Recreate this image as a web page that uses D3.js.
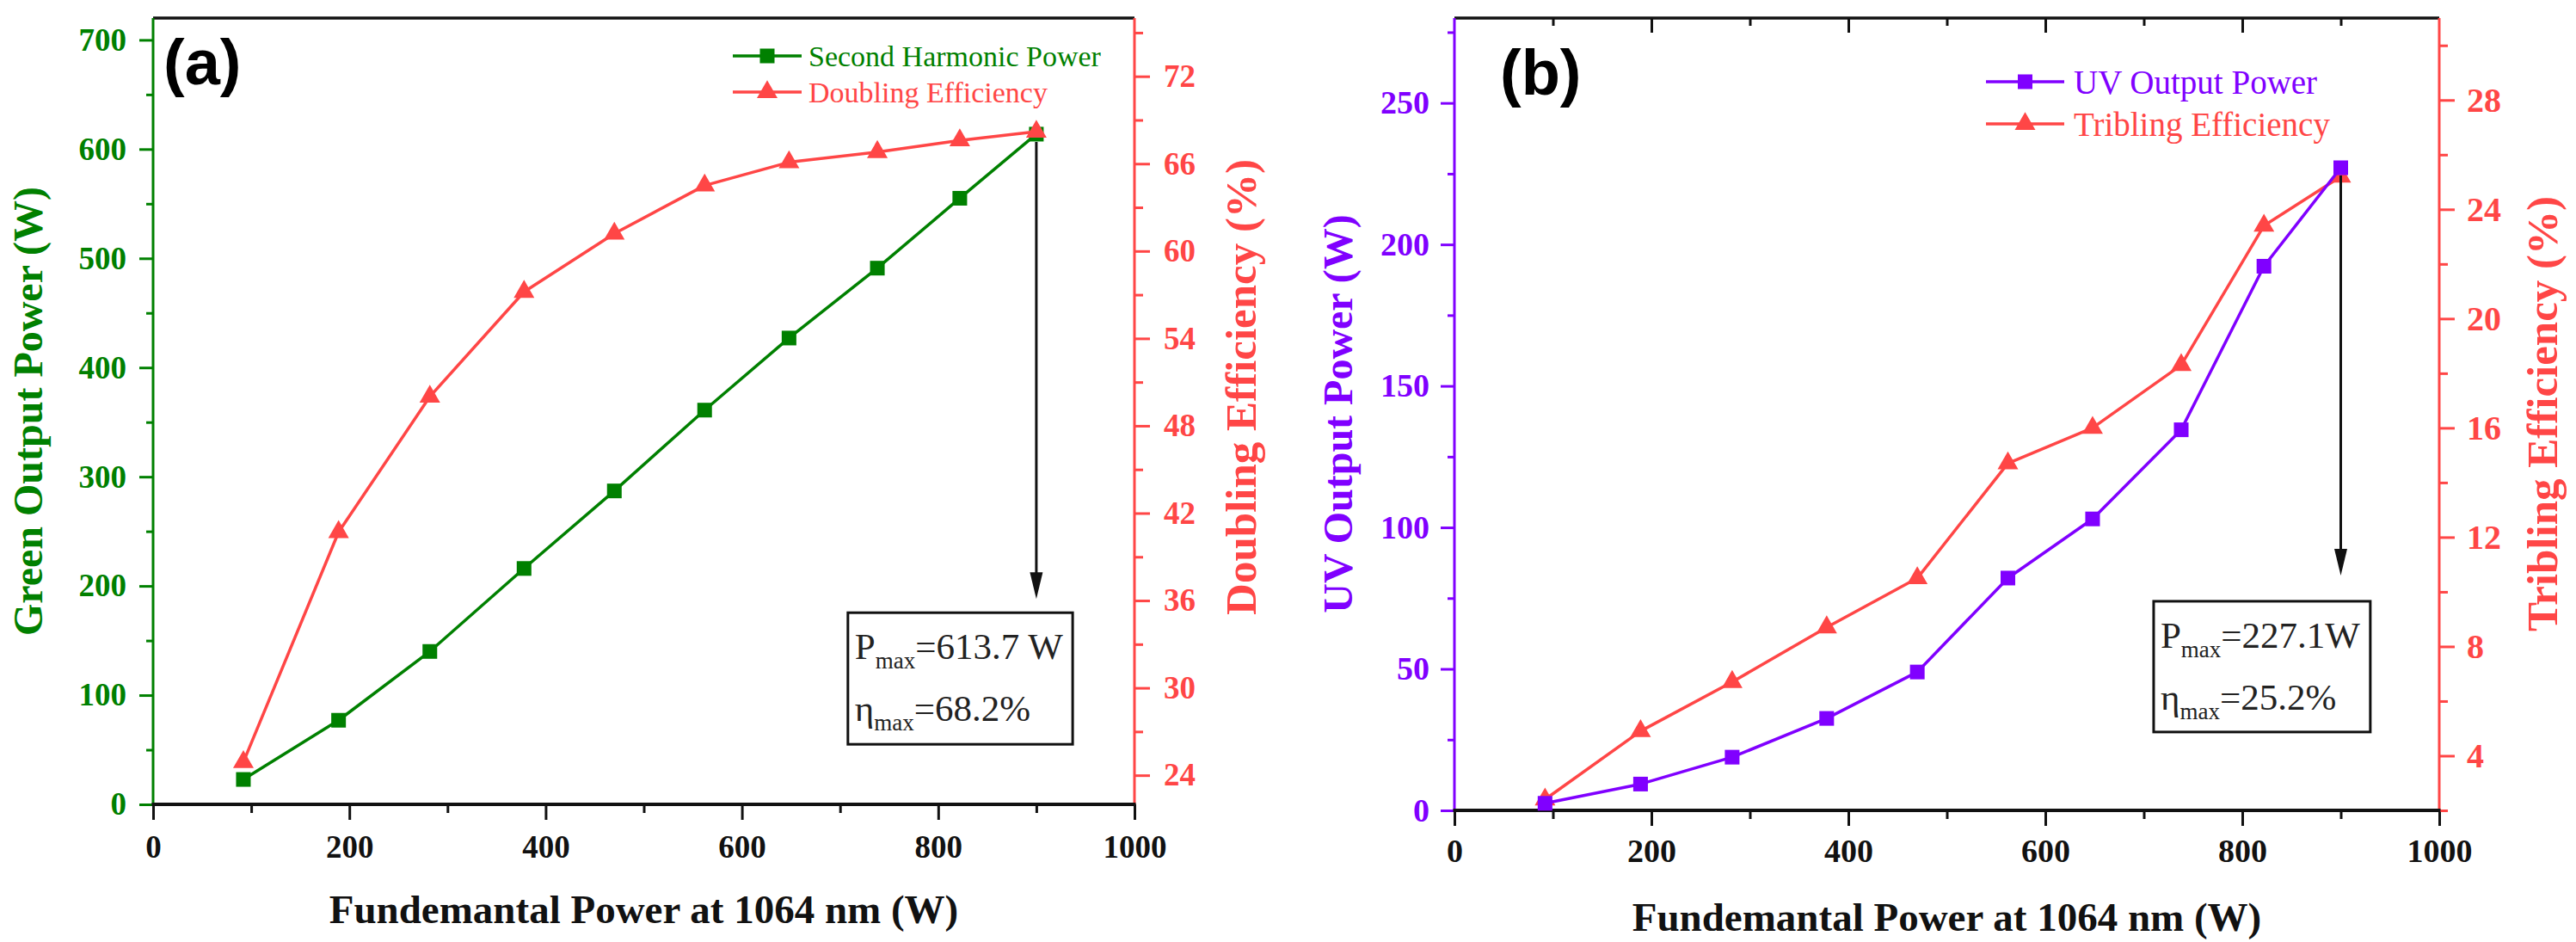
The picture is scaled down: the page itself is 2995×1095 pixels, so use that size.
<!DOCTYPE html>
<html><head><meta charset="utf-8">
<script src="https://cdn.jsdelivr.net/npm/d3@7"></script>
<style>html,body{margin:0;padding:0;background:#fff;} svg{display:block;}</style>
</head><body>
<svg id="chart" width="2995" height="1095"></svg>
<script>
// ---------------- data ----------------
const fundPower   = [92, 189, 282, 378, 470, 562, 648, 738, 822, 900];
const greenPower  = [22.8, 77, 140, 216, 287, 361, 427, 491, 555, 613.7];
const doublingEff = [24.9, 40.7, 50.0, 57.2, 61.2, 64.5, 66.1, 66.8, 67.6, 68.2];
const uvPower     = [2.5, 9.3, 18.8, 32.5, 48.9, 82.1, 103, 134.5, 192.3, 227.1];
const triblingEff = [2.4, 4.9, 6.7, 8.7, 10.5, 14.7, 16.0, 18.3, 23.4, 25.2];

const xTicksMajor  = [0, 200, 400, 600, 800, 1000];
const xTicksMinor  = [100, 300, 500, 700, 900];
const aLeftTicks   = [0, 100, 200, 300, 400, 500, 600, 700];
const aLeftMinor   = [50, 150, 250, 350, 450, 550, 650];
const aRightTicks  = [24, 30, 36, 42, 48, 54, 60, 66, 72];
const aRightMinor  = [27, 33, 39, 45, 51, 57, 63, 69, 75];
const bLeftTicks   = [0, 50, 100, 150, 200, 250];
const bLeftMinor   = [25, 75, 125, 175, 225, 275];
const bRightTicks  = [4, 8, 12, 16, 20, 24, 28];
const bRightMinor  = [2, 6, 10, 14, 18, 22, 26, 30];

const xTitle = "Fundemantal Power at 1064 nm (W)";

// ---------------- styles ----------------
const GREEN = "#008000", RED = "#ff4646", PURPLE = "#8000ff", BLACK = "#111";
const SERIF = "'Liberation Serif','Times New Roman',serif";
const SANS  = "'Liberation Sans',Arial,sans-serif";

const svg = d3.select("#chart");

const panels = [
  { label: "(a)", labelPos: [190, 98],
    left: 178, right: 1319, top: 21, bottom: 935,
    yLDomain: [0, 720], yRDomain: [22, 76],
    leftTicks: aLeftTicks, leftMinor: aLeftMinor, rightTicks: aRightTicks, rightMinor: aRightMinor,
    leftColor: GREEN, rightColor: RED, leftSeries: greenPower, rightSeries: doublingEff,
    leftName: "Second Harmonic Power", rightName: "Doubling Efficiency",
    leftTitle: "Green Output Power (W)", rightTitle: "Doubling Efficiency (%)",
    leftTitlePos: [49, 478, 48], rightTitlePos: [1460, 450, 51],
    tickFont: 37, rightTickFont: 37, leftLabelOff: 31, rightLabelOff: 34, bottomLabelOff: 62,
    xTitleBaseline: 1073, xTitleFont: 47, topTicks: false,
    legend: { x0: 852, x1: 932, xt: 940, rows: [65, 107], font: 34, base: 11.5 },
    arrowTip: 188, box: [708, 937, 175.5, 55],
    pmax: "=613.7 W", etamax: "=68.2%", redOnTop: true },
  { label: "(b)", labelPos: [1744, 110],
    left: 1691, right: 2836, top: 21, bottom: 942,
    yLDomain: [0, 280], yRDomain: [2, 31],
    leftTicks: bLeftTicks, leftMinor: bLeftMinor, rightTicks: bRightTicks, rightMinor: bRightMinor,
    leftColor: PURPLE, rightColor: RED, leftSeries: uvPower, rightSeries: triblingEff,
    leftName: "UV Output Power", rightName: "Tribling Efficiency",
    leftTitle: "UV Output Power (W)", rightTitle: "Tribling Efficiency (%)",
    leftTitlePos: [1572, 481, 48], rightTitlePos: [2973, 481, 51],
    tickFont: 38, rightTickFont: 40, leftLabelOff: 29, rightLabelOff: 32, bottomLabelOff: 60,
    xTitleBaseline: 1082, xTitleFont: 47, topTicks: true,
    legend: { x0: 2309, x1: 2400, xt: 2411, rows: [95, 144], font: 39, base: 14 },
    arrowTip: 83, box: [710, 930, 73.9, 27.7],
    pmax: "=227.1W", etamax: "=25.2%", redOnTop: false }
];

const intFmt = d3.format("d");

function styleAxis(g, color, font, fontSize, weight) {
  g.select(".domain").remove();
  g.selectAll(".tick line").attr("stroke", color).attr("stroke-width", 3);
  g.selectAll(".tick text")
    .attr("fill", color)
    .style("font-family", font)
    .style("font-size", fontSize + "px")
    .style("font-weight", weight);
}

function drawSeries(g, xs, ys, x, y, color, shape) {
  const line = d3.line().x((d, i) => x(xs[i])).y(d => y(d));
  g.append("path").datum(ys).attr("d", line)
    .attr("fill", "none").attr("stroke", color).attr("stroke-width", 3.5)
    .attr("stroke-linejoin", "round");
  const sym = shape === "square" ? d3.symbol().type(d3.symbolSquare).size(290)
                                 : d3.symbol().type(d3.symbolTriangle).size(250);
  g.selectAll(null).data(ys).enter().append("path")
    .attr("transform", (d, i) => `translate(${x(xs[i])},${y(d)})`)
    .attr("d", sym).attr("fill", color);
}

panels.forEach(p => {
  const g = svg.append("g");
  const x  = d3.scaleLinear().domain([0, 1000]).range([p.left, p.right]);
  const yL = d3.scaleLinear().domain(p.yLDomain).range([p.bottom, p.top]);
  const yR = d3.scaleLinear().domain(p.yRDomain).range([p.bottom, p.top]);

  // ---- axes: ticks ----
  const gb = g.append("g").attr("transform", `translate(0,${p.bottom})`)
    .call(d3.axisBottom(x).tickValues(xTicksMajor).tickSize(18).tickSizeOuter(0).tickFormat(intFmt));
  styleAxis(gb, BLACK, SERIF, p.tickFont, "bold");
  gb.selectAll(".tick text").attr("y", p.bottomLabelOff).attr("dy", 0);
  const gbm = g.append("g").attr("transform", `translate(0,${p.bottom})`)
    .call(d3.axisBottom(x).tickValues(xTicksMinor).tickSize(10).tickFormat(""));
  styleAxis(gbm, BLACK, SERIF, p.tickFont, "bold");

  if (p.topTicks) {
    const gt = g.append("g").attr("transform", `translate(0,${p.top})`)
      .call(d3.axisTop(x).tickValues([200, 400, 600, 800]).tickSize(-17).tickFormat(""));
    styleAxis(gt, BLACK, SERIF, p.tickFont, "bold");
    const gtm = g.append("g").attr("transform", `translate(0,${p.top})`)
      .call(d3.axisTop(x).tickValues(xTicksMinor).tickSize(-9).tickFormat(""));
    styleAxis(gtm, BLACK, SERIF, p.tickFont, "bold");
  }

  const gl = g.append("g").attr("transform", `translate(${p.left},0)`)
    .call(d3.axisLeft(yL).tickValues(p.leftTicks).tickSize(16).tickPadding(p.leftLabelOff - 16).tickFormat(intFmt));
  styleAxis(gl, p.leftColor, SERIF, p.tickFont, "bold");
  const glm = g.append("g").attr("transform", `translate(${p.left},0)`)
    .call(d3.axisLeft(yL).tickValues(p.leftMinor).tickSize(8).tickFormat(""));
  styleAxis(glm, p.leftColor, SERIF, p.tickFont, "bold");

  const gr = g.append("g").attr("transform", `translate(${p.right},0)`)
    .call(d3.axisRight(yR).tickValues(p.rightTicks).tickSize(18).tickPadding(p.rightLabelOff - 18).tickFormat(intFmt));
  styleAxis(gr, p.rightColor, SERIF, p.rightTickFont, "bold");
  const grm = g.append("g").attr("transform", `translate(${p.right},0)`)
    .call(d3.axisRight(yR).tickValues(p.rightMinor).tickSize(10).tickFormat(""));
  styleAxis(grm, p.rightColor, SERIF, p.rightTickFont, "bold");

  // ---- axis lines ----
  g.append("line").attr("x1", p.left).attr("x2", p.right).attr("y1", p.top).attr("y2", p.top)
    .attr("stroke", BLACK).attr("stroke-width", 3.5);
  g.append("line").attr("x1", p.left).attr("x2", p.left).attr("y1", p.top).attr("y2", p.bottom)
    .attr("stroke", p.leftColor).attr("stroke-width", 3);
  g.append("line").attr("x1", p.right).attr("x2", p.right).attr("y1", p.top).attr("y2", p.bottom)
    .attr("stroke", p.rightColor).attr("stroke-width", 3);
  g.append("line").attr("x1", p.left - 1.5).attr("x2", p.right + 1.5).attr("y1", p.bottom).attr("y2", p.bottom)
    .attr("stroke", BLACK).attr("stroke-width", 4);

  // ---- titles ----
  g.append("text").attr("x", (p.left + p.right) / 2).attr("y", p.xTitleBaseline)
    .attr("text-anchor", "middle").attr("fill", BLACK)
    .style("font-family", SERIF).style("font-weight", "bold").style("font-size", p.xTitleFont + "px")
    .text(xTitle);
  g.append("text")
    .attr("transform", `translate(${p.leftTitlePos[0]},${p.leftTitlePos[1]}) rotate(-90)`)
    .attr("text-anchor", "middle").attr("fill", p.leftColor)
    .style("font-family", SERIF).style("font-weight", "bold").style("font-size", p.leftTitlePos[2] + "px")
    .text(p.leftTitle);
  g.append("text")
    .attr("transform", `translate(${p.rightTitlePos[0]},${p.rightTitlePos[1]}) rotate(-90)`)
    .attr("text-anchor", "middle").attr("fill", p.rightColor)
    .style("font-family", SERIF).style("font-weight", "bold").style("font-size", p.rightTitlePos[2] + "px")
    .text(p.rightTitle);

  g.append("text").attr("x", p.labelPos[0]).attr("y", p.labelPos[1]).attr("fill", "#000")
    .style("font-family", SANS).style("font-weight", "bold").style("font-size", "74px")
    .text(p.label);

  // ---- series ----
  if (p.redOnTop) {
    drawSeries(g, fundPower, p.leftSeries, x, yL, p.leftColor, "square");
    drawSeries(g, fundPower, p.rightSeries, x, yR, p.rightColor, "triangle");
  } else {
    drawSeries(g, fundPower, p.rightSeries, x, yR, p.rightColor, "triangle");
    drawSeries(g, fundPower, p.leftSeries, x, yL, p.leftColor, "square");
  }

  // ---- legend ----
  const L = p.legend;
  [[p.leftName, p.leftColor, d3.symbolSquare, 290], [p.rightName, p.rightColor, d3.symbolTriangle, 250]]
    .forEach((it, i) => {
      const ry = L.rows[i];
      g.append("line").attr("x1", L.x0).attr("x2", L.x1).attr("y1", ry).attr("y2", ry)
        .attr("stroke", it[1]).attr("stroke-width", 3.5);
      g.append("path").attr("transform", `translate(${(L.x0 + L.x1) / 2},${ry})`)
        .attr("d", d3.symbol().type(it[2]).size(it[3])).attr("fill", it[1]);
      g.append("text").attr("x", L.xt).attr("y", ry + L.base).attr("fill", it[1])
        .style("font-family", SERIF).style("font-size", L.font + "px").text(it[0]);
    });

  // ---- arrow ----
  const last = fundPower.length - 1;
  const ax = x(fundPower[last]);
  const ay0 = yL(p.leftSeries[last]) + 9;
  const ay1 = yL(p.arrowTip);
  g.append("line").attr("x1", ax).attr("x2", ax).attr("y1", ay0).attr("y2", ay1 - 25)
    .attr("stroke", BLACK).attr("stroke-width", 3);
  g.append("path").attr("d", `M${ax - 7.5},${ay1 - 31} L${ax + 7.5},${ay1 - 31} L${ax},${ay1} Z`)
    .attr("fill", BLACK);

  // ---- annotation box ----
  const bx0 = x(p.box[0]), bx1 = x(p.box[1]), by0 = yL(p.box[2]), by1 = yL(p.box[3]);
  g.append("rect").attr("x", bx0).attr("y", by0).attr("width", bx1 - bx0).attr("height", by1 - by0)
    .attr("fill", "none").attr("stroke", BLACK).attr("stroke-width", 3);
  const lines = [["P", p.pmax, 54], ["\u03b7", p.etamax, 126]];
  lines.forEach(l => {
    const t = g.append("text").attr("x", bx0 + 8).attr("y", by0 + l[2]).attr("fill", "#222")
      .style("font-family", SERIF).style("font-size", "43px");
    t.append("tspan").text(l[0]);
    t.append("tspan").attr("dy", 11).style("font-size", "27px").text("max");
    t.append("tspan").attr("dy", -11).text(l[1]);
  });
});
</script>
</body></html>
